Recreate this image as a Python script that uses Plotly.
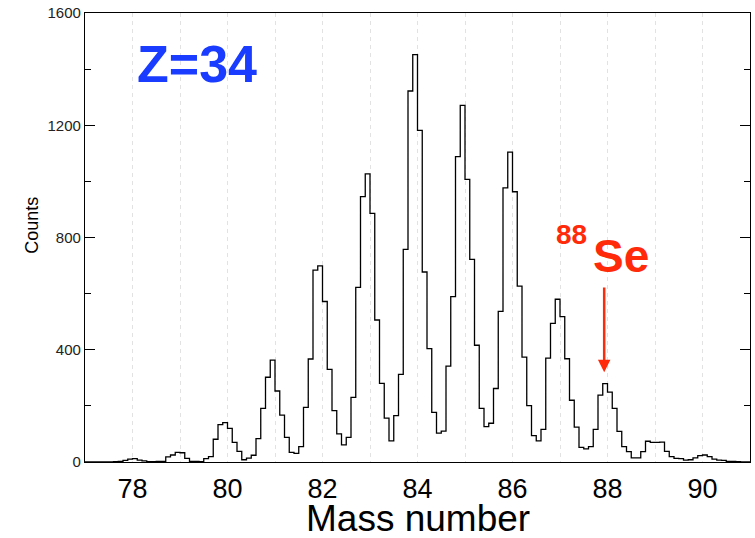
import numpy as np
import plotly.graph_objects as go

# histogram: 0.1 wide bins from 77.0 to 91.0, counts
bin_lo = 77.0
bin_width = 0.1
counts = [
    0, 0, 0, 0, 0, 0, 1, 2, 6, 10,            # 77.0 - 77.9
    12, 7, 4, 1, 1, 2, 2, 18, 25, 34,         # 78.0 - 78.9
    33, 13, 2, 2, 1, 12, 19, 81, 133, 140,    # 79.0 - 79.9
    120, 70, 38, 8, 14, 24, 83, 191, 302, 363,  # 80.0 - 80.9
    253, 167, 88, 34, 31, 55, 195, 367, 684, 699,  # 81.0 - 81.9
    572, 330, 183, 100, 61, 88, 230, 622, 946, 1027,  # 82.0 - 82.9
    886, 506, 280, 156, 75, 165, 312, 758, 1322, 1452,  # 83.0 - 83.9
    1182, 677, 404, 177, 103, 110, 342, 589, 1088, 1271,  # 84.0 - 84.9
    1007, 722, 416, 191, 126, 138, 262, 537, 977, 1104,  # 85.0 - 85.9
    963, 627, 374, 201, 94, 75, 116, 370, 494, 580,  # 86.0 - 86.9
    518, 368, 220, 124, 52, 47, 55, 116, 238, 279,  # 87.0 - 87.9
    249, 191, 109, 55, 37, 15, 15, 37, 74, 70,  # 88.0 - 88.9
    70, 71, 38, 19, 13, 12, 7, 8, 15, 23,      # 89.0 - 89.9
    25, 19, 10, 7, 6, 2, 2, 1, 0, 0,           # 90.0 - 90.9
]

x_ticks = [78, 80, 82, 84, 86, 88, 90]
y_ticks = [0, 400, 800, 1200, 1600]

edges = bin_lo + bin_width * np.arange(len(counts) + 1)
steps = counts + [counts[-1]]

font = "Liberation Sans, Arial, sans-serif"
blue = "#1a3cff"
red = "#ff2a0a"
grid = "#e2e2e2"

fig = go.Figure()
fig.add_trace(go.Scatter(
    x=edges, y=steps, mode="lines", line_shape="hv",
    line=dict(color="black", width=1.3), showlegend=False,
    hoverinfo="skip",
))

fig.update_layout(
    template="none",
    width=755, height=538,
    margin=dict(l=85, r=5, t=13, b=76),
    paper_bgcolor="white", plot_bgcolor="white",
    font=dict(family=font, color="black"),
    xaxis=dict(
        range=[77, 91], tickvals=x_ticks, ticks="", automargin=False,
        tickfont=dict(size=27), ticklabelstandoff=2,
        showline=True, linecolor="black",
        linewidth=1.3, mirror=True, showgrid=True, gridcolor=grid,
        griddash="4px,4px", gridwidth=1, zeroline=False,
        minor=dict(dtick=1, tick0=0, showgrid=True, gridcolor=grid,
                   griddash="4px,4px", gridwidth=1),
    ),
    yaxis=dict(
        range=[0, 1600], tickvals=y_ticks, ticks="inside", ticklen=10,
        tickcolor="black", tickfont=dict(size=15, color="#222"),
        automargin=False, ticklabeloverflow="allow",
        showline=True, linecolor="black", linewidth=1.3, mirror="ticks",
        showgrid=False, zeroline=False,
        minor=dict(dtick=200, ticks="inside", ticklen=6, tickcolor="black"),
    ),
)

# axis titles as annotations so they sit where the original has them
fig.add_annotation(x=0.5, y=-0.125, xref="paper", yref="paper",
                   text="Mass number", showarrow=False, yanchor="middle",
                   font=dict(size=37))
fig.add_annotation(x=-0.08, y=845, xref="paper", yref="y", text="Counts",
                   textangle=-90, showarrow=False, xanchor="center",
                   font=dict(size=18))

fig.add_annotation(x=79.35, y=1418, text="<b>Z=34</b>", showarrow=False,
                   font=dict(size=52, color=blue))
fig.add_annotation(x=88.28, y=734, text="<b>Se</b>", showarrow=False,
                   font=dict(size=46, color=red))
fig.add_annotation(x=87.25, y=809, text="<b>88</b>", showarrow=False,
                   font=dict(size=28, color=red))
fig.add_annotation(x=87.93, y=320, ax=87.93, ay=627, axref="x", ayref="y",
                   text="", showarrow=True, arrowhead=2, arrowsize=1,
                   arrowwidth=2.5, arrowcolor=red)

# drop the default 8px page margin so the figure fills the window
fig.write_html("out.html", config={"displayModeBar": False},
               post_script="document.body.style.margin='0';")
